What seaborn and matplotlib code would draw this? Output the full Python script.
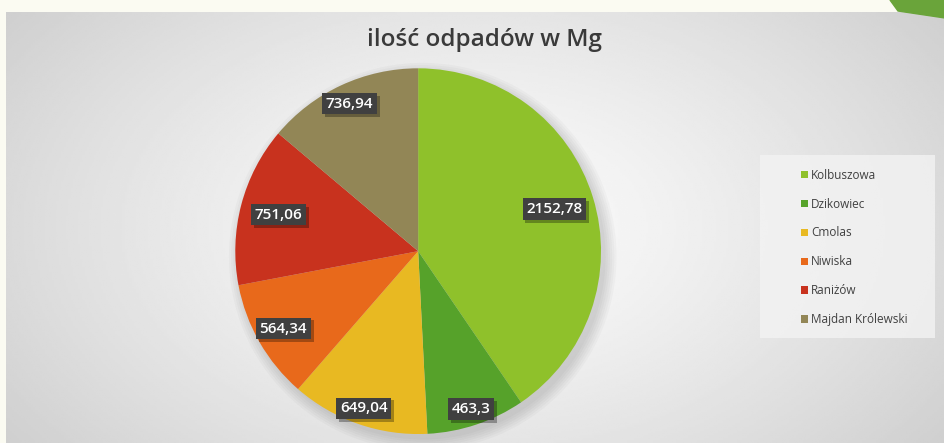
import matplotlib
matplotlib.use("Agg")
import matplotlib.pyplot as plt
import matplotlib.patheffects as pe
import numpy as np
import seaborn as sns
from matplotlib.patches import Circle, Polygon, Rectangle

# --- data ---
GMINY = ["Kolbuszowa", "Dzikowiec", "Cmolas", "Niwiska", "Raniżów", "Majdan Królewski"]
ODPADY = [2152.78, 463.3, 649.04, 564.34, 751.06, 736.94]
LABELS = ["2152,78", "463,3", "649,04", "564,34", "751,06", "736,94"]
COLORS = ["#8fc12b", "#56a22a", "#e8b922", "#e8691b", "#c8321e", "#928656"]
TITLE = "ilość odpadów w Mg"

# label distance from centre (fraction of radius), "best fit" placement
LABEL_R = [0.78, 0.91, 0.91, 0.85, 0.79, 0.89]

sns.set_theme(style="white")
plt.rcParams["font.family"] = ["Open Sans", "DejaVu Sans"]
palette = sns.color_palette(COLORS)

fig = plt.figure(figsize=(9.45, 4.43), dpi=100)
fig.patch.set_facecolor("#fbfbf2")

# gray gradient slide background
bg = fig.add_axes([6 / 945, 0, 939 / 945, 431 / 443])
xx, yy = np.meshgrid(np.linspace(-1, 1, 400), np.linspace(-1, 1, 200))
dist = np.clip(np.sqrt((xx * 0.75) ** 2 + (yy * 0.55) ** 2), 0, 1)
shade = 0.985 - 0.19 * dist ** 1.3
bg.imshow(shade, cmap="gray", vmin=0, vmax=1, aspect="auto", extent=[0, 1, 0, 1])
bg.set_xlim(0, 1)
bg.set_ylim(0, 1)
bg.axis("off")

# green corner top-right
fig.patches.append(Polygon([[890 / 945, 1], [1, 1], [1, 1 - 18 / 443], [898 / 945, 1 - 11 / 443]],
                           closed=True, transform=fig.transFigure, color="#6aa43a", zorder=1))

# pie axes
ax = fig.add_axes([0.249, 0.020, 0.387, 0.826])
ax.set_aspect("equal")
ax.axis("off")
# soft shadow under the pie
for k in range(6):
    ax.add_patch(Circle((0.025, -0.03), 1.0 + 0.012 * k, color="black", alpha=0.025,
                        linewidth=0, zorder=0, clip_on=False))
wedges, _ = ax.pie(ODPADY, colors=palette, startangle=90, counterclock=False,
                   wedgeprops=dict(linewidth=0, zorder=2))
ax.set_xlim(-1, 1)
ax.set_ylim(-1, 1)

shadow = [pe.withSimplePatchShadow(offset=(2, -2), shadow_rgbFace="black", alpha=0.3)]
total = sum(ODPADY)
angle = 90.0
for val, lab, r in zip(ODPADY, LABELS, LABEL_R):
    span = 360.0 * val / total
    mid = np.deg2rad(angle - span / 2)
    angle -= span
    t = ax.text(r * np.cos(mid), r * np.sin(mid), lab, ha="center", va="center",
                color="white", fontsize=11, fontweight="semibold", zorder=4,
                bbox=dict(boxstyle="square,pad=0.25", facecolor="#404040", edgecolor="none"))
    t.get_bbox_patch().set_path_effects(shadow)

fig.text(485 / 945, 1 - 40 / 443, TITLE, ha="center", va="center",
         fontsize=17.5, fontweight="semibold", color="#3a3a3a")

# legend panel
fig.patches.append(Rectangle((760 / 945, 1 - 338 / 443), 175 / 945, 183 / 443,
                             transform=fig.transFigure, facecolor="#f3f3f3",
                             edgecolor="none", alpha=0.8, zorder=1))
leg = fig.legend(wedges, GMINY, loc="upper left", bbox_to_anchor=(790 / 945, 1 - 158 / 443),
                 frameon=False, fontsize=8.5, handlelength=0.6, handleheight=0.6,
                 handletextpad=0.3, labelspacing=1.35, labelcolor="#404040")

fig.savefig("out.png", dpi=100)
